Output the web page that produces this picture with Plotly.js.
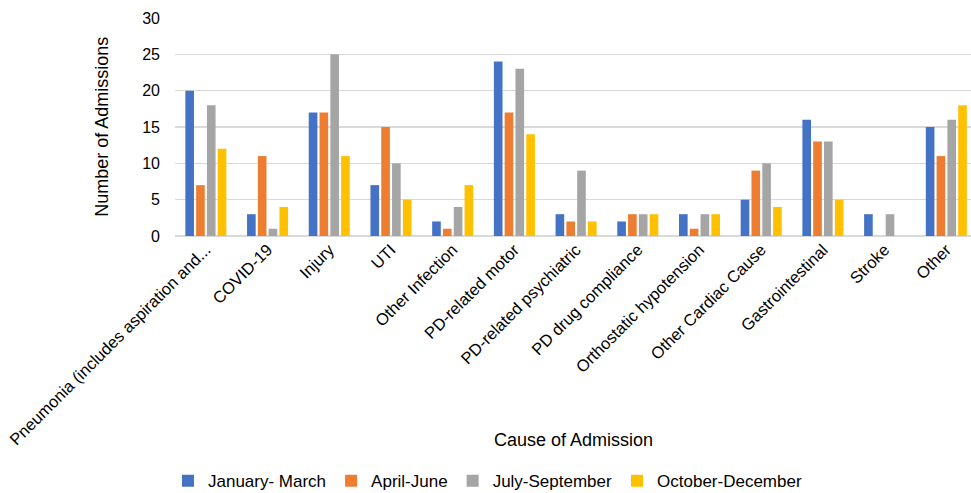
<!DOCTYPE html>
<html><head><meta charset="utf-8">
<script src="https://cdn.plot.ly/plotly-3.0.1.min.js"></script>
<style>body{margin:0;padding:0;background:#fff}#chart{width:971px;height:493px}</style>
</head><body><div id="chart"></div>
<script>
const categories = ["Pneumonia (includes aspiration and...","COVID-19","Injury","UTI","Other Infection","PD-related motor","PD-related psychiatric","PD drug compliance","Orthostatic hypotension","Other Cardiac Cause","Gastrointestinal","Stroke","Other"];
const janMar = [20,3,17,7,2,24,3,2,3,5,16,3,15];
const aprJun = [7,11,17,15,1,17,2,3,1,9,13,0,11];
const julSep = [18,1,25,10,4,23,9,3,3,10,13,3,16];
const octDec = [12,4,11,5,7,14,2,3,3,4,5,0,18];
const seriesNames = ["January- March","April-June","July-September","October-December"];
const colors = ["#4472C4","#ED7D31","#A5A5A5","#FFC000"];
const allSeries = [janMar, aprJun, julSep, octDec];
const font = "Liberation Sans, Arial, sans-serif";
const traces = allSeries.map((v,i)=>({type:'bar', name:seriesNames[i], x:categories, y:v, marker:{color:colors[i]}}));
const layout = {
  width:971, height:493,
  margin:{l:175, r:0, t:18, b:257},
  barmode:'group', bargap:0.3, bargroupgap:0.2,
  font:{family:font, size:16, color:'#000'},
  plot_bgcolor:'#fff', paper_bgcolor:'#fff',
  xaxis:{type:'category', range:[-0.5,12.4], tickangle:-45, tickfont:{size:16.5, color:'#000'}, showgrid:false, showline:false, ticks:'', automargin:false},
  yaxis:{range:[0,30], dtick:5, gridcolor:'#d9d9d9', gridwidth:1.5, zeroline:true, zerolinecolor:'#d9d9d9', zerolinewidth:2, tickfont:{size:16, color:'#000'}, ticks:'', ticklabelstandoff:14, automargin:false},
  showlegend:true,
  legend:{orientation:'h', xref:'container', x:0.173, xanchor:'left', yref:'container', y:0.024, yanchor:'middle', font:{size:17}, traceorder:'normal', itemwidth:30},
  annotations:[
    {text:'Cause of Admission', xref:'paper', yref:'paper', x:0.5, y:-0.935, xanchor:'center', yanchor:'middle', showarrow:false, font:{size:18}},
    {text:'Number of Admissions', xref:'paper', yref:'paper', x:-0.092, y:0.5, xanchor:'center', yanchor:'middle', textangle:-90, showarrow:false, font:{size:18}}
  ]
};
Plotly.newPlot('chart', traces, layout, {displayModeBar:false, staticPlot:true});
</script></body></html>
